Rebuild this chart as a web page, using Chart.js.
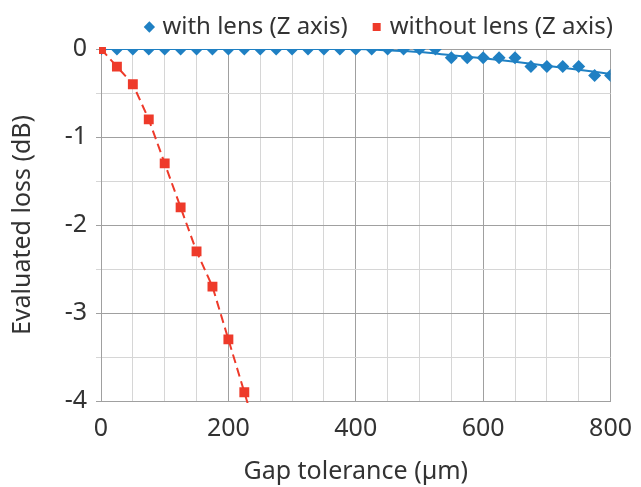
<!DOCTYPE html>
<html>
<head>
<meta charset="utf-8">
<script src="https://cdn.jsdelivr.net/npm/chart.js@4/dist/chart.umd.min.js"></script>
<style>
  html, body { margin: 0; padding: 0; background: #fff; }
  #wrap { width: 641px; height: 487px; }
</style>
</head>
<body>
<div id="wrap"><canvas id="chart"></canvas></div>
<script>
// gap values (um) and measured loss (dB)
const gapLens = [0, 25, 50, 75, 100, 125, 150, 175, 200, 225, 250, 275, 300, 325, 350, 375, 400,
  425, 450, 475, 500, 525, 550, 575, 600, 625, 650, 675, 700, 725, 750, 775, 800]
const lossLens = [0, 0, 0, 0, 0, 0, 0, 0, 0, 0, 0, 0, 0, 0, 0, 0, 0,
  0, 0, 0, 0, 0, -0.1, -0.1, -0.1, -0.1, -0.1, -0.2, -0.2, -0.2, -0.2, -0.3, -0.3]

// last point falls below the axis and is clipped
const gapNoLens = [0, 25, 50, 75, 100, 125, 150, 175, 200, 225, 250]
const lossNoLens = [0, -0.2, -0.4, -0.8, -1.3, -1.8, -2.3, -2.7, -3.3, -3.9, -4.5]

// trend line for with lens
const trendLensX = [0, 400, 450, 500, 550, 600, 650, 700, 750, 800]
const trendLensY = [0, 0, -0.015, -0.035, -0.07, -0.105, -0.145, -0.19, -0.235, -0.285]

const xTicks = [0, 200, 400, 600, 800]
const yTicks = [0, -1, -2, -3, -4]

const BLUE = '#1f80c3'
const RED = '#ee3a2a'
const FONT = "'Noto Sans', sans-serif"

function pts(xs, ys){
    let out = []
    xs.forEach((x, i) => out.push({x: x, y: ys[i]}))
    return out
}

const data = {
    datasets: [
        {
            label: 'without lens (Z axis)',
            data: pts(gapNoLens, lossNoLens),
            showLine: true,
            pointStyle: 'rect',
            pointRadius: 7,
            backgroundColor: RED,
            borderColor: RED,
            borderWidth: 2,
            pointBorderWidth: 0,
            borderDash: [9, 5],
            clip: {left: 2, top: 2, right: 2, bottom: 2}
        },
        {
            label: 'with lens (Z axis)',
            data: pts(gapLens, lossLens),
            showLine: false,
            pointStyle: 'rectRot',
            pointRadius: 6.5,
            backgroundColor: BLUE,
            borderColor: BLUE,
            borderWidth: 0
        },
        {
            label: 'trend lens',
            data: pts(trendLensX, trendLensY),
            showLine: true,
            pointRadius: 0,
            borderColor: BLUE,
            borderWidth: 2,
            tension: 0.3
        }
    ]
}

new Chart(document.getElementById('chart'), {
    type: 'scatter',
    data: data,
    options: {
        responsive: true,
        maintainAspectRatio: false,
        animation: false,
        layout: { padding: { left: 0, right: 0, top: -13, bottom: 0 } },
        plugins: {
            tooltip: { enabled: false },
            legend: {
                position: 'top',
                align: 'end',
                reverse: true,
                labels: {
                    usePointStyle: true,
                    boxWidth: 2,
                    boxHeight: 8,
                    padding: 28,
                    color: '#333',
                    font: { family: FONT, size: 24 },
                    filter: item => item.datasetIndex < 2
                }
            }
        },
        scales: {
            x: {
                type: 'linear',
                min: 0,
                max: 800,
                ticks: {
                    stepSize: 50,
                    autoSkip: false,
                    maxRotation: 0,
                    color: '#333',
                    padding: 9,
                    font: { family: FONT, size: 25 },
                    callback: v => xTicks.includes(v) ? v : ''
                },
                grid: {
                    drawTicks: true,
                    tickLength: 4,
                    tickColor: 'rgba(0,0,0,0)',
                    color: ctx => ctx.tick && ctx.tick.value % 200 === 0 ? '#a0a0a0' : '#d6d6d6'
                },
                border: { color: '#a0a0a0' },
                title: {
                    display: true,
                    text: 'Gap tolerance (µm)',
                    color: '#333',
                    font: { family: FONT, size: 25 },
                    padding: { top: 4, bottom: 0 }
                }
            },
            y: {
                min: -4,
                max: 0,
                ticks: {
                    stepSize: 0.5,
                    autoSkip: false,
                    color: '#333',
                    padding: 9,
                    font: { family: FONT, size: 25 },
                    callback: v => yTicks.includes(v) ? (v === 0 ? '0' : v) : ''
                },
                grid: {
                    tickLength: 5,
                    color: ctx => ctx.tick && Number.isInteger(ctx.tick.value) ? '#a0a0a0' : '#d6d6d6'
                },
                border: { color: '#a0a0a0' },
                title: {
                    display: true,
                    text: 'Evaluated loss (dB)',
                    color: '#333',
                    font: { family: FONT, size: 25 },
                    padding: { top: 8, bottom: 0 }
                },
                afterFit: s => { s.width = 101 }
            }
        }
    }
})
</script>
</body>
</html>
